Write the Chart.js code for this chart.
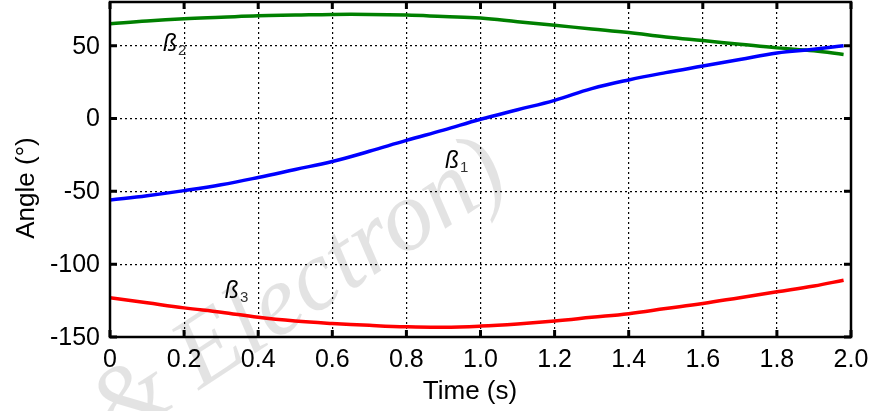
<!DOCTYPE html>
<html>
<head>
<meta charset="utf-8">
<script src="https://cdn.jsdelivr.net/npm/chart.js@4/dist/chart.umd.min.js"></script>
<style>
  html, body { margin: 0; padding: 0; background: #fff; }
  #wrap { width: 875px; height: 411px; position: relative; }
</style>
</head>
<body>
<div id="wrap"><canvas id="graphCanvas-angles"></canvas></div>
<script>
// time samples (s)
var time = [0, 0.1, 0.2, 0.3, 0.4, 0.5, 0.6, 0.7, 0.8, 0.9, 1.0,
            1.1, 1.2, 1.3, 1.4, 1.5, 1.6, 1.7, 1.8, 1.9, 1.98];
// angles (deg)
var beta1 = [-56, -53, -49.5, -45.5, -40.5, -35, -29.5, -22.5, -15, -8, -0.5,
             6, 12.5, 20.5, 26.5, 31.5, 36, 40.5, 45, 47.5, 50];
var beta2 = [65, 67, 68.5, 69.5, 70.5, 71, 71.5, 71.5, 71, 70, 69,
             66.5, 64, 61.5, 59, 56, 53.5, 51, 48.5, 46.5, 44];
var beta3 = [-123, -126.5, -130, -133, -136.5, -139, -140.7, -142, -143, -143.3, -142.5,
             -141, -139, -136.5, -134, -130.5, -127, -123, -119, -115, -111];
var xTicks = [0, 0.2, 0.4, 0.6, 0.8, 1.0, 1.2, 1.4, 1.6, 1.8, 2.0];
var xTickLabels = ['0', '0.2', '0.4', '0.6', '0.8', '1.0', '1.2', '1.4', '1.6', '1.8', '2.0'];
var yTicks = [-150, -100, -50, 0, 50];
var yTickLabels = ['-150', '-100', '-50', '0', '50'];
// curve labels: [main, subscript, x, y] (baseline-left, in data units)
var curveLabels = [
    ['ß', '1', 0.904, -34.2],
    ['ß', '2', 0.143, 46.6],
    ['ß', '3', 0.31, -123.3]
];

function pts(ys) {
    var out = [];
    for (var i in ys) out.push({x: time[i], y: ys[i]});
    return out;
}

var font = '"Liberation Sans", Arial, sans-serif';

var framePlugin = {
    id: 'frame',
    beforeDraw: function (chart) {
        // faint watermark from the source figure
        var ctx = chart.ctx;
        ctx.save();
        ctx.fillStyle = 'rgba(0,0,0,0.11)';
        ctx.font = 'italic 100px "Liberation Serif", serif';
        ctx.translate(512, 185);
        ctx.rotate(-0.58);
        ctx.textAlign = 'right';
        ctx.fillText('cuit & Electron)', 0, 0);
        ctx.restore();
    },
    afterDraw: function (chart) {
        var ctx = chart.ctx, a = chart.chartArea;
        var xs = chart.scales.x, ys = chart.scales.y;
        ctx.save();
        ctx.strokeStyle = '#000';
        ctx.lineWidth = 2.5;
        ctx.strokeRect(a.left, a.top, a.right - a.left, a.bottom - a.top);
        ctx.lineWidth = 3;
        ctx.beginPath();
        xTicks.forEach(function (t) {
            var px = xs.getPixelForValue(t);
            ctx.moveTo(px, a.bottom); ctx.lineTo(px, a.bottom - 7);
            ctx.moveTo(px, a.top); ctx.lineTo(px, a.top + 7);
        });
        yTicks.forEach(function (t) {
            var py = ys.getPixelForValue(t);
            ctx.moveTo(a.left, py); ctx.lineTo(a.left + 7, py);
            ctx.moveTo(a.right, py); ctx.lineTo(a.right - 7, py);
        });
        ctx.stroke();

        // tick labels
        ctx.fillStyle = '#000';
        ctx.font = '25px ' + font;
        ctx.textAlign = 'right';
        ctx.textBaseline = 'middle';
        yTicks.forEach(function (t, i) {
            ctx.fillText(yTickLabels[i], a.left - 10, ys.getPixelForValue(t) + 1);
        });
        ctx.textAlign = 'center';
        ctx.textBaseline = 'alphabetic';
        xTicks.forEach(function (t, i) {
            ctx.fillText(xTickLabels[i], xs.getPixelForValue(t), a.bottom + 30);
        });

        // axis titles
        ctx.font = '26px ' + font;
        ctx.fillText('Time (s)', 470, 399);
        ctx.save();
        ctx.translate(34, 188);
        ctx.rotate(-Math.PI / 2);
        ctx.fillText('Angle (°)', 0, 0);
        ctx.restore();

        // curve labels
        ctx.textAlign = 'left';
        curveLabels.forEach(function (l) {
            var px = xs.getPixelForValue(l[2]), py = ys.getPixelForValue(l[3]);
            ctx.font = 'italic 23px ' + font;
            ctx.fillStyle = '#000';
            ctx.fillText(l[0], px, py);
            var w = ctx.measureText(l[0]).width;
            ctx.font = '15px ' + font;
            ctx.fillStyle = '#333';
            ctx.fillText(l[1], px + w + 1, py + 4);
        });
        ctx.restore();
    }
};

var chartdata = {
    datasets: [
        { label: 'beta1', data: pts(beta1), borderColor: '#0000ff', borderWidth: 3.5, pointRadius: 0, tension: 0.4, fill: false },
        { label: 'beta2', data: pts(beta2), borderColor: '#008000', borderWidth: 3.5, pointRadius: 0, tension: 0.4, fill: false },
        { label: 'beta3', data: pts(beta3), borderColor: '#ff0000', borderWidth: 3.5, pointRadius: 0, tension: 0.4, fill: false }
    ]
};

var graphTarget = document.getElementById('graphCanvas-angles');

var lineGraph = new Chart(graphTarget, {
    type: 'line',
    data: chartdata,
    plugins: [framePlugin],
    options: {
        responsive: true,
        maintainAspectRatio: false,
        animation: false,
        layout: { padding: { left: 0, top: 2, right: 24, bottom: 0 } },
        plugins: { legend: { display: false }, tooltip: { enabled: false } },
        scales: {
            x: {
                type: 'linear',
                min: 0, max: 2,
                afterBuildTicks: function (scale) {
                    scale.ticks = xTicks.map(function (v) { return {value: v}; });
                },
                afterFit: function (scale) { scale.height = 74; },
                ticks: { display: false },
                grid: { color: '#000', lineWidth: 1.2, drawTicks: false },
                border: { display: false, dash: [2, 3] }
            },
            y: {
                type: 'linear',
                min: -150, max: 80,
                afterBuildTicks: function (scale) {
                    scale.ticks = yTicks.map(function (v) { return {value: v}; });
                },
                afterFit: function (scale) { scale.width = 110; },
                ticks: { display: false },
                grid: { color: '#000', lineWidth: 1.2, drawTicks: false },
                border: { display: false, dash: [2, 3] }
            }
        }
    }
});
</script>
</body>
</html>
